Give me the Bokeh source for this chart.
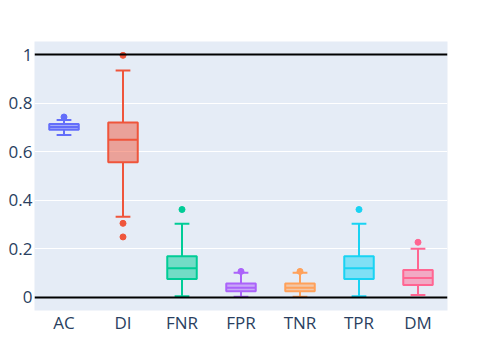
from bokeh.plotting import figure
from bokeh.models import ColumnDataSource, FixedTicker, NumeralTickFormatter, Span
from bokeh.transform import dodge
from bokeh.embed import file_html
from bokeh.resources import INLINE

# ---- data ----
categories = ["AC", "DI", "FNR", "FPR", "TNR", "TPR", "DM"]
q1 = [0.691, 0.557, 0.076, 0.025, 0.025, 0.076, 0.051]
median = [0.702, 0.649, 0.120, 0.040, 0.040, 0.120, 0.080]
q3 = [0.714, 0.720, 0.169, 0.057, 0.057, 0.169, 0.113]
lower_fence = [0.669, 0.332, 0.005, 0.003, 0.003, 0.005, 0.010]
upper_fence = [0.731, 0.935, 0.303, 0.102, 0.102, 0.303, 0.200]
colors = ["#636efa", "#EF553B", "#00cc96", "#ab63fa", "#FFA15A", "#19d3f3", "#FF6692"]

outlier_cat = ["AC", "DI", "DI", "DI", "FNR", "FPR", "TNR", "TPR", "DM"]
outlier_val = [0.743, 0.997, 0.305, 0.249, 0.362, 0.107, 0.107, 0.362, 0.227]

y_ticks = [0, 0.2, 0.4, 0.6, 0.8, 1]
ref_lines = [0, 1]

# ---- figure ----
p = figure(x_range=categories, y_range=(-0.054, 1.054), width=466, height=336,
           output_backend="svg", toolbar_location=None,
           min_border_left=34, min_border_right=19, min_border_top=41, min_border_bottom=19,
           background_fill_color="#E5ECF6", border_fill_color="white")
p.outline_line_color = None
p.xgrid.grid_line_color = None
p.ygrid.grid_line_color = "white"
p.ygrid.grid_line_width = 1
p.yaxis.ticker = FixedTicker(ticks=y_ticks)
p.yaxis.formatter = NumeralTickFormatter(format="0.[0]")

for ax in (p.xaxis, p.yaxis):
    ax.axis_line_color = None
    ax.major_tick_line_color = None
    ax.minor_tick_line_color = None
    ax.major_tick_out = 0
    ax.major_tick_in = 0
    ax.major_label_text_font = "Open Sans"
    ax.major_label_text_font_size = "17px"
    ax.major_label_text_color = "#2a3f5f"
p.yaxis.major_label_standoff = 2
p.xaxis.major_label_standoff = 0

src = ColumnDataSource(dict(cat=categories, q1=q1, med=median, q3=q3,
                            lo=lower_fence, hi=upper_fence, color=colors))
xr = p.x_range

# whiskers
p.segment(x0="cat", y0="q3", x1="cat", y1="hi", source=src, line_color="color", line_width=2)
p.segment(x0="cat", y0="q1", x1="cat", y1="lo", source=src, line_color="color", line_width=2)
# caps
p.segment(x0=dodge("cat", -0.125, range=xr), y0="hi", x1=dodge("cat", 0.125, range=xr), y1="hi",
          source=src, line_color="color", line_width=2)
p.segment(x0=dodge("cat", -0.125, range=xr), y0="lo", x1=dodge("cat", 0.125, range=xr), y1="lo",
          source=src, line_color="color", line_width=2)
# boxes
p.vbar(x="cat", top="q3", bottom="q1", width=0.5, source=src,
       fill_color="color", fill_alpha=0.5, line_color="color", line_width=2)
# medians
p.segment(x0=dodge("cat", -0.25, range=xr), y0="med", x1=dodge("cat", 0.25, range=xr), y1="med",
          source=src, line_color="color", line_width=2)

# outliers
out_colors = [colors[categories.index(c)] for c in outlier_cat]
osrc = ColumnDataSource(dict(cat=outlier_cat, val=outlier_val, color=out_colors))
p.scatter(x="cat", y="val", source=osrc, size=6, fill_color="color", line_color="color")

for v in ref_lines:
    p.add_layout(Span(location=v, dimension="width", line_color="black", line_width=2))

open("out.html", "w").write(file_html(p, INLINE))
